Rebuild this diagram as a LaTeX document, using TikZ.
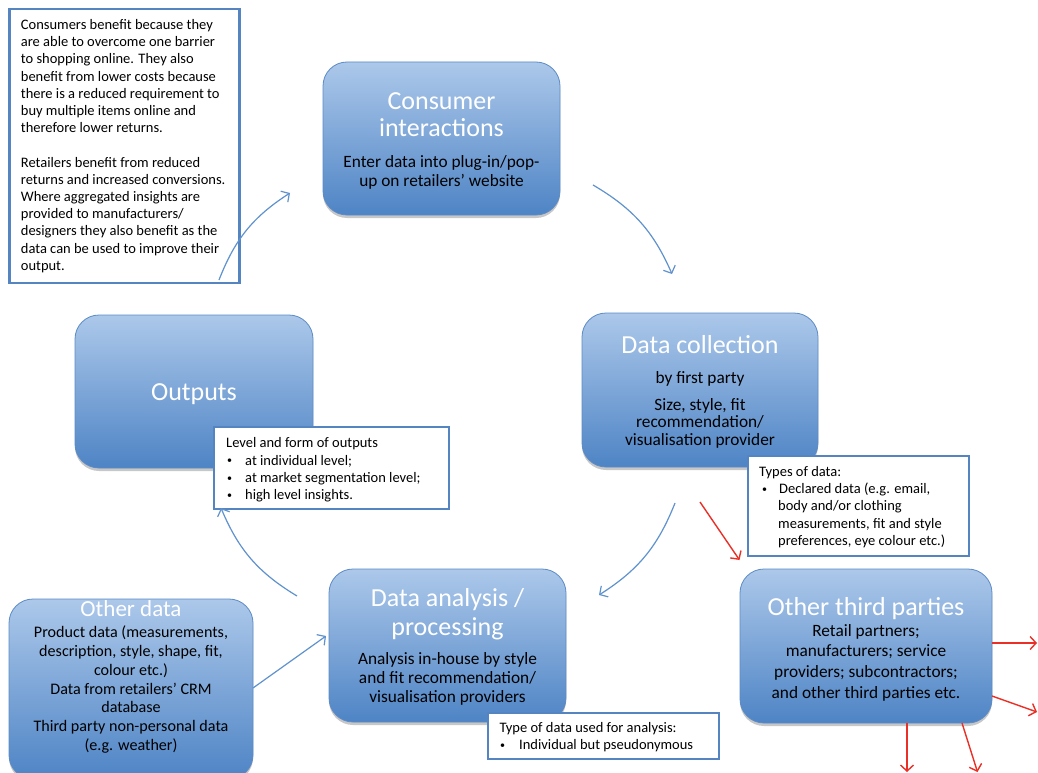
\documentclass[tikz,border=0pt]{standalone}
\usepackage{fontspec}
\setmainfont{Carlito}
\usetikzlibrary{arrows.meta,shadows}

\definecolor{boxtop}{RGB}{172,200,234}
\definecolor{boxbot}{RGB}{78,132,197}
\definecolor{boxline}{RGB}{92,139,198}
\definecolor{noteline}{RGB}{84,133,193}
\definecolor{flow}{RGB}{96,146,206}
\definecolor{share}{RGB}{234,48,38}

\tikzset{
  stage/.style={rounded corners=24pt, draw=boxline, line width=0.8pt,
    top color=boxtop, bottom color=boxbot, inner sep=0pt,
    drop shadow={shadow xshift=0pt, shadow yshift=-3pt, opacity=0.22, fill=black}},
  note/.style={draw=noteline, line width=2.4pt, fill=white, inner sep=0pt},
  title/.style={text=white, font=\fontsize{26}{28}\selectfont, inner sep=0pt, anchor=base},
  smalltitle/.style={text=white, font=\fontsize{23}{25}\selectfont, inner sep=0pt, anchor=base},
  body/.style={font=\fontsize{17.3}{19}\selectfont, inner sep=0pt, anchor=base},
  smallbody/.style={font=\fontsize{16.1}{18}\selectfont, inner sep=0pt, anchor=base},
  notetext/.style={font=\fontsize{14.5}{17}\selectfont, inner sep=0pt, anchor=base west},
  flowarrow/.style={draw=flow, line width=1.2pt, -{Straight Barb[length=6pt,width=13pt]}},
  sharearrow/.style={draw=share, line width=1.4pt, -{Straight Barb[length=6pt,width=13pt]}}
}

% small list bullet followed by a fixed indent
\newcommand{\bul}[1]{\makebox[#1][l]{\raisebox{1.2pt}{\fontsize{10}{10}\selectfont •}}}

\begin{document}
\begin{tikzpicture}[x=1pt,y=-1pt]
\useasboundingbox[fill=white] (0,0) rectangle (1038,773);

% ---------- stage boxes ----------
\node[stage, minimum width=237pt, minimum height=153pt] (consumer) at (441.5,138.5) {};
\node[stage, minimum width=236pt, minimum height=154pt] (collect)  at (700,390) {};
\node[stage, minimum width=238pt, minimum height=153pt] (outputs)  at (194,391.5) {};
\node[stage, minimum width=237pt, minimum height=153pt] (analysis) at (447.5,645.5) {};
\node[stage, minimum width=252pt, minimum height=154pt] (thirdp)   at (866,646) {};
\node[stage, minimum width=244pt, minimum height=180pt] (otherdata) at (131,689) {};

% ---------- explanatory note, top left ----------
\node[note, minimum width=230pt, minimum height=274pt] (benefit) at (124.5,146) {};
\foreach \ln [count=\i from 0] in {
  {Consumers benefit because they},
  {are able to overcome one barrier},
  {to shopping online. They also},
  {benefit from lower costs because},
  {there is a reduced requirement to},
  {buy multiple items online and},
  {therefore lower returns.},
  {},
  {Retailers benefit from reduced},
  {returns and increased conversions.},
  {Where aggregated insights are},
  {provided to manufacturers/},
  {designers they also benefit as the},
  {data can be used to improve their},
  {output.}}
  \node[notetext] (benefit-\i) at (20.7,{29.5+17.2*\i}) {\ln};

% ---------- stage texts ----------
\node[title] (consumer-t1) at (441.5,109.3) {Consumer};
\node[title] (consumer-t2) at (441.5,136) {interactions};
\node[body]  (consumer-b1) at (441.5,167.3) {Enter data into plug-in/pop-};
\node[body]  (consumer-b2) at (441.5,186) {up on retailers’ website};

\node[title] (collect-t1) at (700,353.3) {Data collection};
\node[body]  (collect-b1) at (700,383.3) {by first party};
\node[body]  (collect-b2) at (700,410) {Size, style, fit};
\node[body]  (collect-b3) at (700,427.6) {recommendation/};
\node[body]  (collect-b4) at (700,445.5) {visualisation provider};

\node[title] (outputs-t1) at (194,400.7) {Outputs};

\node[title] (analysis-t1) at (447.5,606.7) {Data analysis /};
\node[title] (analysis-t2) at (447.5,635) {processing};
\node[body]  (analysis-b1) at (447.5,664) {Analysis in-house by style};
\node[body]  (analysis-b2) at (447.5,683.5) {and fit recommendation/};
\node[body]  (analysis-b3) at (447.5,702.7) {visualisation providers};

\node[title] (thirdp-t1) at (866,615) {Other third parties};
\node[body]  (thirdp-b1) at (866,636) {Retail partners;};
\node[body]  (thirdp-b2) at (866,656.7) {manufacturers; service};
\node[body]  (thirdp-b3) at (866,677.3) {providers; subcontractors;};
\node[body]  (thirdp-b4) at (866,698) {and other third parties etc.};

\node[smalltitle] (otherdata-t1) at (131,616.7) {Other data};
\foreach \ln [count=\i from 0] in {
  {Product data (measurements,},
  {description, style, shape, fit,},
  {colour etc.)},
  {Data from retailers’ CRM},
  {database},
  {Third party non-personal data},
  {(e.g. weather)}}
  \node[smallbody] (otherdata-b\i) at (131,{637.3+18.9*\i}) {\ln};

% ---------- callouts ----------
\node[note, minimum width=235pt, minimum height=82pt] (levels) at (331.5,468) {};
\node[notetext] (levels-1) at (226,447.6) {Level and form of outputs};
\node[notetext] (levels-2) at (227,465) {\bul{18pt}at individual level;};
\node[notetext] (levels-3) at (227,482.3) {\bul{18pt}at market segmentation level;};
\node[notetext] (levels-4) at (227,499.5) {\bul{18pt}high level insights.};

\node[note, minimum width=221pt, minimum height=100pt] (types) at (858.5,506) {};
\node[notetext] (types-1) at (759,476) {Types of data:};
\node[notetext] (types-2) at (762,493.4) {\bul{17pt}Declared data (e.g. email,};
\node[notetext] (types-3) at (778,510.8) {body and/or clothing};
\node[notetext] (types-4) at (778,528.2) {measurements, fit and style};
\node[notetext] (types-5) at (778,545.6) {preferences, eye colour etc.)};

\node[note, minimum width=231pt, minimum height=46pt] (usedtype) at (603.5,736) {};
\node[notetext] (usedtype-1) at (499.3,732.7) {Type of data used for analysis:};
\node[notetext] (usedtype-2) at (500,749.5) {\bul{19pt}Individual but pseudonymous};

% ---------- flow arrows ----------
\coordinate (f1s) at (219,280);  \coordinate (f1e) at (290,193);
\coordinate (f2s) at (593,185);  \coordinate (f2e) at (672,274);
\coordinate (f3s) at (675,503);  \coordinate (f3e) at (599,595);
\coordinate (f4s) at (297,596);  \coordinate (f4e) at (221,508);
\coordinate (f5s) at (253,688);  \coordinate (f5e) at (326,636);
\draw[flowarrow] (f1s) to[bend left=18] (f1e);
\draw[flowarrow] (f2s) to[bend left=18] (f2e);
\draw[flowarrow] (f3s) to[bend left=18] (f3e);
\draw[flowarrow] (f4s) to[bend left=18] (f4e);
\draw[flowarrow] (f5s) -- (f5e);

% ---------- onward sharing arrows ----------
\coordinate (s0s) at (700,502);  \coordinate (s0e) at (739.5,560);
\coordinate (s1s) at (992,643);  \coordinate (s1e) at (1037,643);
\coordinate (s2s) at (992,696);  \coordinate (s2e) at (1037,712);
\coordinate (s3s) at (907,723);  \coordinate (s3e) at (907,772);
\coordinate (s4s) at (962,723);  \coordinate (s4e) at (977.5,772);
\draw[sharearrow] (s0s) -- (s0e);
\draw[sharearrow] (s1s) -- (s1e);
\draw[sharearrow] (s2s) -- (s2e);
\draw[sharearrow] (s3s) -- (s3e);
\draw[sharearrow] (s4s) -- (s4e);
\end{tikzpicture}
\end{document}
